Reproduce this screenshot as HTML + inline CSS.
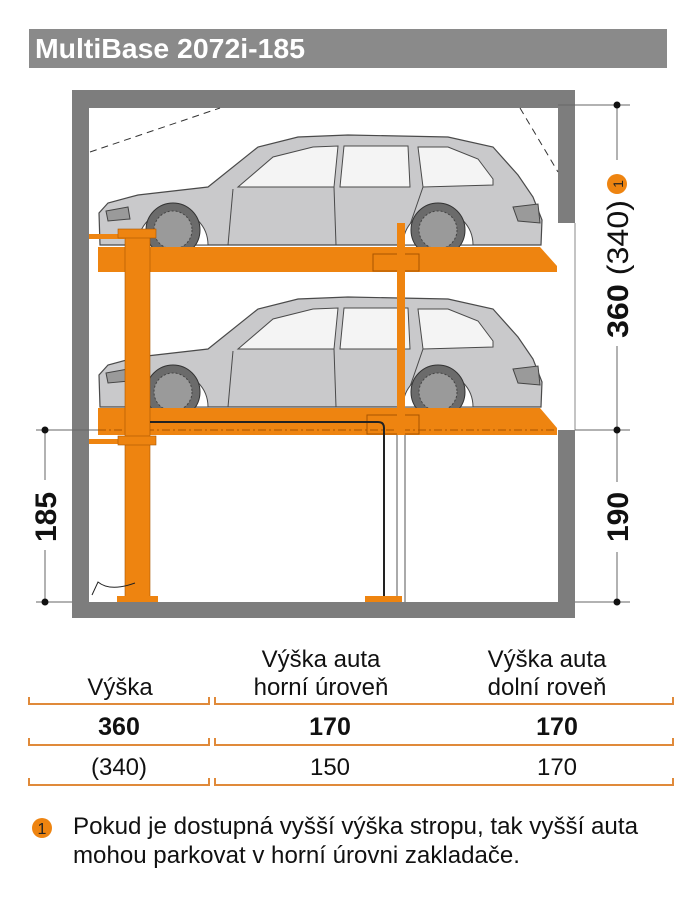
<!DOCTYPE html>
<html><head><meta charset="utf-8"><style>
body{margin:0;background:#fff;width:696px;height:895px;overflow:hidden;font-family:"Liberation Sans",sans-serif}
</style></head><body>
<svg width="696" height="895" viewBox="0 0 696 895" xmlns="http://www.w3.org/2000/svg" font-family="Liberation Sans, sans-serif">
<defs>
<g id="car">
  <path d="M2,60 L1,28 L10,18 L40,10 L110,2 L160,-38 L200,-48 L250,-50 L350,-48 L395,-38 L420,-10 L435,12 L444,35 L443,60 Z" fill="#c9c9cb" stroke="#4a4a4a" stroke-width="1.2"/>
  <path d="M140,2 L175,-28 L215,-38 L240,-39 L236,2 Z" fill="#f4f4f4" stroke="#4a4a4a"/>
  <path d="M246,-39 L310,-39 L312,2 L242,2 Z" fill="#f4f4f4" stroke="#4a4a4a"/>
  <path d="M320,-38 L350,-38 L380,-26 L395,-6 L395,0 L325,2 Z" fill="#f4f4f4" stroke="#4a4a4a"/>
  <line x1="135" y1="4" x2="130" y2="60" stroke="#4a4a4a"/>
  <line x1="236" y1="2" x2="238" y2="60" stroke="#4a4a4a"/>
  <line x1="325" y1="2" x2="305" y2="60" stroke="#4a4a4a"/>
  <path d="M40,60 A35,35 0 0 1 110,60 Z" fill="#fff" stroke="#4a4a4a"/>
  <path d="M305,60 A35,35 0 0 1 375,60 Z" fill="#fff" stroke="#4a4a4a"/>
  <circle cx="75" cy="45" r="27" fill="#6b6b6b" stroke="#333"/>
  <circle cx="75" cy="45" r="19" fill="#9a9a9a" stroke="#444" stroke-dasharray="2 2"/>
  <circle cx="340" cy="45" r="27" fill="#6b6b6b" stroke="#333"/>
  <circle cx="340" cy="45" r="19" fill="#9a9a9a" stroke="#444" stroke-dasharray="2 2"/>
  <path d="M415,22 L440,19 L442,38 L420,36 Z" fill="#9a9a9a" stroke="#444"/>
  <path d="M8,26 L30,22 L32,34 L10,36 Z" fill="#9a9a9a" stroke="#444"/>
</g>
</defs>
<!-- title -->
<rect x="29" y="29" width="638" height="39" fill="#8a8a8a"/>
<text x="35" y="58" font-size="28" font-weight="bold" fill="#fff" textLength="270" lengthAdjust="spacingAndGlyphs">MultiBase 2072i-185</text>
<!-- walls -->
<rect x="72" y="90" width="503" height="528" fill="#7d7d7d"/>
<rect x="89" y="108" width="469" height="494" fill="#fff"/>
<rect x="558" y="223" width="17" height="207" fill="#fff"/>
<line x1="575" y1="223" x2="575" y2="430" stroke="#888" stroke-width="1"/>
<line x1="90" y1="152" x2="220" y2="108" stroke="#333" stroke-dasharray="7 5"/>
<line x1="520" y1="108" x2="558" y2="172" stroke="#333" stroke-dasharray="7 5"/>
<!-- cars -->
<use href="#car" x="98" y="185"/>
<use href="#car" x="98" y="347"/>
<!-- platforms -->
<path d="M98,247 L540,247 L557,266 L557,272 L98,272 Z" fill="#ee8410"/>
<path d="M98,408 L540,408 L557,428 L557,435 L98,435 Z" fill="#ee8410"/>
<rect x="373" y="254" width="46" height="17" fill="none" stroke="#a85400"/>
<rect x="367" y="415" width="52" height="19" fill="none" stroke="#a85400"/>
<line x1="98" y1="430" x2="557" y2="430" stroke="#a85400" stroke-dasharray="8 3 2 3"/>
<!-- posts -->
<rect x="125" y="232" width="25" height="368" fill="#ee8410" stroke="#a85400" stroke-width="0.6"/>
<rect x="89" y="234" width="36" height="5" fill="#ee8410"/>
<rect x="118" y="229" width="38" height="9" fill="#ee8410" stroke="#a85400" stroke-width="0.6"/>
<rect x="89" y="439" width="36" height="5" fill="#ee8410"/>
<rect x="118" y="436" width="38" height="9" fill="#ee8410" stroke="#a85400" stroke-width="0.6"/>
<rect x="117" y="596" width="41" height="6" fill="#ee8410"/>
<rect x="397" y="223" width="8" height="212" fill="#ee8410"/>
<line x1="397" y1="435" x2="397" y2="602" stroke="#555"/>
<line x1="405" y1="435" x2="405" y2="602" stroke="#555"/>
<path d="M150,422 L378,422 Q384,422 384,428 L384,600" fill="none" stroke="#222" stroke-width="2"/>
<rect x="365" y="596" width="37" height="6" fill="#ee8410"/>
<path d="M92,595 L98,582 Q110,592 135,583" fill="none" stroke="#222"/>
<!-- dimension right -->
<line x1="558" y1="105" x2="630" y2="105" stroke="#666"/>
<line x1="575" y1="430" x2="630" y2="430" stroke="#666"/>
<line x1="575" y1="602" x2="630" y2="602" stroke="#666"/>
<line x1="617" y1="105" x2="617" y2="602" stroke="#666"/>
<rect x="598" y="160" width="38" height="186" fill="#fff"/>
<rect x="598" y="482" width="38" height="70" fill="#fff"/>
<circle cx="617" cy="105" r="3.5" fill="#111"/><circle cx="617" cy="430" r="3.5" fill="#111"/><circle cx="617" cy="602" r="3.5" fill="#111"/>
<circle cx="617" cy="184" r="10" fill="#ee8410"/>
<text transform="translate(623,184) rotate(-90)" font-size="14" text-anchor="middle" fill="#222">1</text>
<text transform="translate(628,338) rotate(-90)" font-size="30" fill="#111" textLength="138" lengthAdjust="spacingAndGlyphs"><tspan font-weight="bold">360</tspan> (340)</text>
<text transform="translate(628,542) rotate(-90)" font-size="30" font-weight="bold" fill="#111">190</text>
<!-- dimension left -->
<line x1="36" y1="430" x2="98" y2="430" stroke="#666"/>
<line x1="36" y1="602" x2="72" y2="602" stroke="#666"/>
<line x1="45" y1="430" x2="45" y2="602" stroke="#666"/>
<rect x="28" y="480" width="34" height="70" fill="#fff"/>
<circle cx="45" cy="430" r="3.5" fill="#111"/><circle cx="45" cy="602" r="3.5" fill="#111"/>
<text transform="translate(56,542) rotate(-90)" font-size="30" font-weight="bold" fill="#111">185</text>
<!-- table -->
<g font-size="24" fill="#111" text-anchor="middle">
<text x="120" y="695">Výška</text>
<text x="321" y="667">Výška auta</text>
<text x="321" y="695">horní úroveň</text>
<text x="547" y="667">Výška auta</text>
<text x="547" y="695">dolní roveň</text>
<text x="119" y="735" font-weight="bold" font-size="25">360</text>
<text x="330" y="735" font-weight="bold" font-size="25">170</text>
<text x="557" y="735" font-weight="bold" font-size="25">170</text>
<text x="119" y="775">(340)</text>
<text x="330" y="775">150</text>
<text x="557" y="775">170</text>
</g>
<g fill="none" stroke="#e08a3a" stroke-width="2">
<path d="M29,697 V704 H209 V697"/><path d="M215,697 V704 H673 V697"/>
<path d="M29,738 V745 H209 V738"/><path d="M215,738 V745 H673 V738"/>
<path d="M29,778 V785 H209 V778"/><path d="M215,778 V785 H673 V778"/>
</g>
<circle cx="42" cy="828" r="10" fill="#ee8410"/>
<text x="42" y="834" font-size="16" text-anchor="middle" fill="#222">1</text>
<text x="73" y="834" font-size="24" fill="#111" textLength="565" lengthAdjust="spacingAndGlyphs">Pokud je dostupná vyšší výška stropu, tak vyšší auta</text>
<text x="73" y="863" font-size="24" fill="#111" textLength="447" lengthAdjust="spacingAndGlyphs">mohou parkovat v horní úrovni zakladače.</text>
</svg>
</body></html>
